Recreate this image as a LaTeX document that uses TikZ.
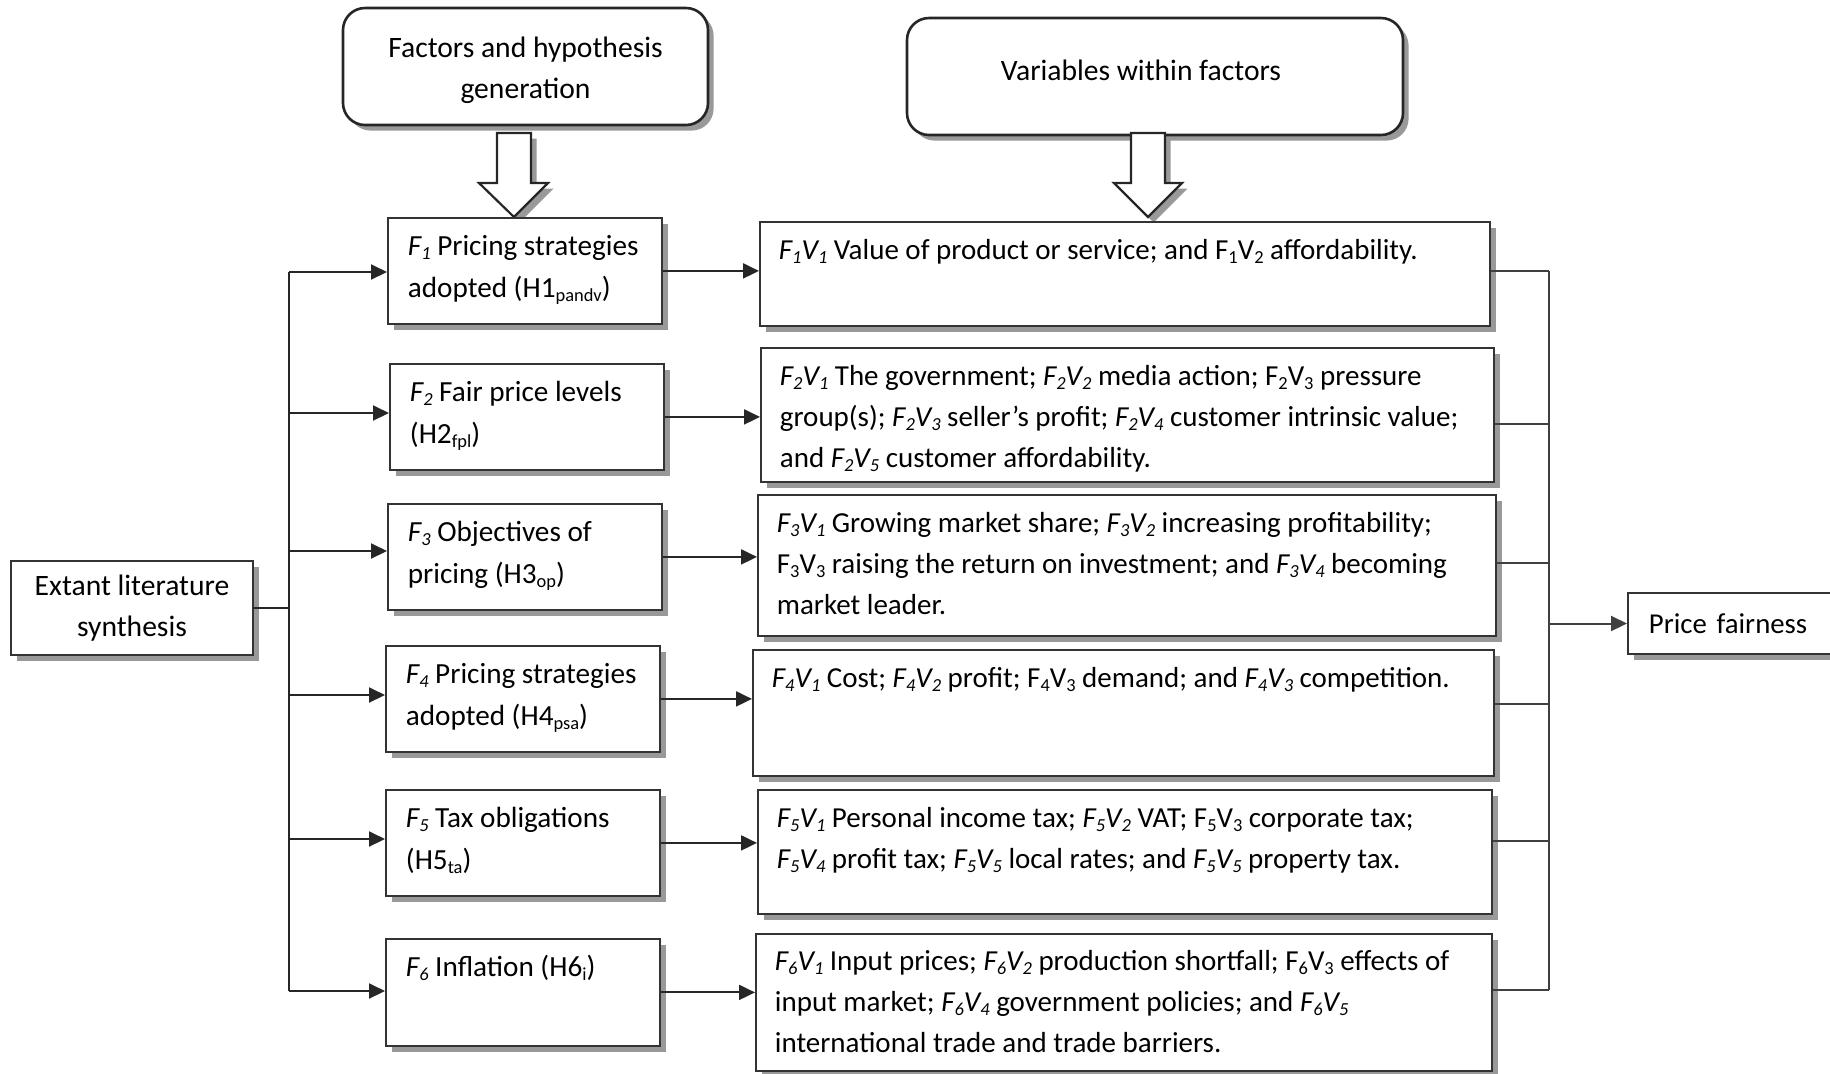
\documentclass[tikz,border=0pt]{standalone}
\usepackage{fontspec}
\setmainfont{Carlito}
\usetikzlibrary{arrows.meta,shadows}
\newcommand\sbs[1]{\raisebox{-1.8pt}{\fontsize{9.2pt}{9.2pt}\selectfont #1}}
\newcommand\FV[2]{\textit{F\sbs{#1}V\sbs{#2}}}
\newcommand\FVu[2]{F\sbs{#1}V\sbs{#2}}
\newcommand\Fi[1]{\textit{F\sbs{#1}}}
\newcommand\bxt[4]{\parbox[c][#2][t]{#1}{\raggedright\rule{0pt}{#3}#4}}
\begin{document}
\begin{tikzpicture}[x=0.5pt,y=-0.5pt,
  every node/.style={font=\fontsize{14.6pt}{21pt}\selectfont, text=black},
  shad/.style={drop shadow={shadow xshift=2.8pt,shadow yshift=-2.8pt,fill=black!40,opacity=1}},
  fbox/.style={draw=black!80, line width=0.9pt, fill=white, shad, anchor=north west, inner ysep=0pt},
  lbox/.style={fbox, inner xsep=10pt},
  rbox/.style={fbox, inner xsep=9.5pt, font=\fontsize{14.5pt}{20.5pt}\selectfont},
  rnd/.style={draw=black!85, line width=1.3pt, fill=white, shad, rounded corners=11pt, align=center, inner sep=0pt, font=\fontsize{14.8pt}{20.5pt}\selectfont},
  bus/.style={draw=black!85, line width=1pt},
  tbus/.style={draw=black!75, line width=0.6pt},
  arr/.style={bus, -{Triangle[length=8pt,width=7.5pt]}},
  blk/.style={draw=black!85, line width=1.1pt, fill=white, shad, line join=miter}
]
\useasboundingbox (0,0) rectangle (1830,1073);

% top rounded boxes
\node[rnd, minimum width=182.5pt, minimum height=58.5pt] (T1) at (525.5,66.5) {\raisebox{-1.8pt}[\height][\depth]{\begin{tabular}{@{}c@{}}Factors and hypothesis\\generation\end{tabular}}};
\node[rnd, minimum width=248pt, minimum height=58.5pt] (T2) at (1155,76.5) {\raisebox{3pt}[\height][\depth]{Variables within factors}\hspace*{14pt}};

% block arrows
\path[blk] (497,133) -- (531,133) -- (531,183) -- (548,183) -- (514,217) -- (479,183) -- (497,183) -- cycle;
\path[blk] (1131,133) -- (1165,133) -- (1165,183) -- (1182,183) -- (1148,217) -- (1114,183) -- (1131,183) -- cycle;

% source and sink
\node[fbox, anchor=center, align=center, minimum width=121pt, minimum height=47pt, font=\fontsize{14.8pt}{20.5pt}\selectfont] (E) at (132,608) {Extant literature\\synthesis};
\node[fbox, anchor=west, inner xsep=10.5pt, text width=95pt, minimum height=30.5pt, font=\fontsize{14.4pt}{20pt}\selectfont] (P) at (1627,623.5) {Price fairness};

% factor boxes
\node[lbox] (F1) at (387,217) {\bxt{117pt}{53pt}{19pt}{\Fi1 Pricing strategies\\adopted (H1\sbs{pandv})}};
\node[lbox] (F2) at (389,363) {\bxt{117pt}{53pt}{19pt}{\Fi2 Fair price levels\\(H2\sbs{fpl})}};
\node[lbox] (F3) at (387,503) {\bxt{117pt}{53pt}{19pt}{\Fi3 Objectives of\\pricing (H3\sbs{op})}};
\node[lbox] (F4) at (385,645) {\bxt{117pt}{53pt}{19pt}{\Fi4 Pricing strategies\\adopted (H4\sbs{psa})}};
\node[lbox] (F5) at (385,789) {\bxt{117pt}{53pt}{19pt}{\Fi5 Tax obligations\\(H5\sbs{ta})}};
\node[lbox] (F6) at (385,938) {\bxt{117pt}{53.5pt}{19pt}{\Fi6 Inflation (H6\sbs{i})}};

% variable boxes
\node[rbox] (V1) at (759,221) {\bxt{346pt}{52pt}{19pt}{\FV11 Value of product or service; and \FVu12 affordability.}};
\node[rbox] (V2) at (760,347) {\bxt{347.5pt}{67pt}{19pt}{\mbox{\FV21 The government; \FV22 media action; \FVu23 pressure}\\\mbox{group(s); \FV23 seller's profit; \FV24 customer intrinsic value;}\\\mbox{and \FV25 customer affordability.}}};
\node[rbox] (V3) at (757,494) {\bxt{350pt}{70.5pt}{19pt}{\mbox{\FV31 Growing market share; \FV32 increasing profitability;}\\\mbox{\FVu33 raising the return on investment; and \FV34 becoming}\\\mbox{market leader.}}};
\node[rbox] (V4) at (752,649) {\bxt{351.5pt}{63pt}{19pt}{\mbox{\FV41 Cost; \FV42 profit; \FVu43 demand; and \FV43 competition.}}};
\node[rbox] (V5) at (757,789) {\bxt{348pt}{62pt}{19pt}{\mbox{\FV51 Personal income tax; \FV52 VAT; \FVu53 corporate tax;}\\\mbox{\FV54 profit tax; \FV55 local rates; and \FV55 property tax.}}};
\node[rbox] (V6) at (755,933) {\bxt{349pt}{68.5pt}{18.5pt}{\mbox{\FV61 Input prices; \FV62 production shortfall; \FVu63 effects of}\\\mbox{input market; \FV64 government policies; and \FV65}\\\mbox{international trade and trade barriers.}}};

% left bus
\coordinate (b1) at (289,272);
\coordinate (b2) at (289,413);
\coordinate (b3) at (289,551);
\coordinate (b4) at (289,695);
\coordinate (b5) at (289,839);
\coordinate (b6) at (289,991);
\draw[bus] (b1) -- (b6);
\draw[bus] (E.east) -- (E.east -| b1);
\foreach \i in {1,...,6} {\draw[arr] (b\i) -- (b\i -| F\i.west);}

% factor -> variables
\foreach \i in {1,...,6} {\draw[arr] (F\i.east) -- (F\i.east -| V\i.west);}

% right bus
\coordinate (r1) at (1549,271);
\coordinate (r2) at (1549,424);
\coordinate (r3) at (1549,563);
\coordinate (r4) at (1549,704);
\coordinate (r5) at (1549,841);
\coordinate (r6) at (1549,990);
\draw[tbus] (r1) -- (r6);
\foreach \i in {1,...,6} {\draw[tbus] (r\i -| V\i.east) -- (r\i);}
\coordinate (rp) at (1549,623.5);
\draw[tbus, line width=1pt, -{Triangle[length=8pt,width=7.5pt]}] (rp) -- (P.west);
\end{tikzpicture}
\end{document}
